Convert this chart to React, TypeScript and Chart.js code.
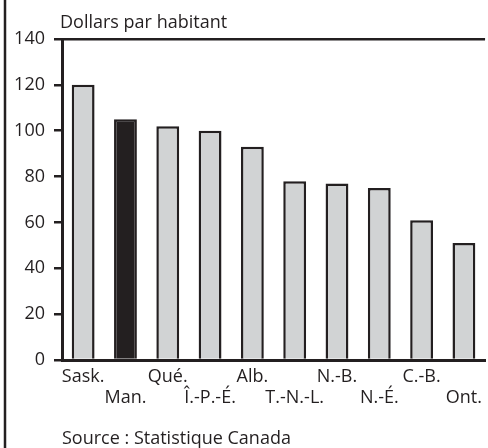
import React, { useEffect, useRef } from "react";
import { Chart, registerables } from "chart.js";

Chart.register(...registerables);

const categories: string[] = ["Sask.", "Man.", "Qué.", "Î.-P.-É.", "Alb.", "T.-N.-L.", "N.-B.", "N.-É.", "C.-B.", "Ont."];
const values: number[] = [120, 105, 102, 100, 93, 78, 77, 75, 61, 51];
const highlighted: string = "Man.";
const yTicks: number[] = [0, 20, 40, 60, 80, 100, 120, 140];
const titleText = "Dollars par habitant";
const sourceText = "Source : Statistique Canada";

const DARK = "#231f20";
const GRAY = "#d1d3d4";
const FONT = "'Open Sans', sans-serif";

export default function App() {
  const ref = useRef<HTMLCanvasElement | null>(null);

  useEffect(() => {
    if (!ref.current) return;
    const labels = categories.map((c, i) => (i % 2 === 0 ? [c, ""] : ["", c]));
    const decor = {
      id: "decor",
      afterDraw(chart: any) {
        const ctx = chart.ctx;
        const area = chart.chartArea;
        ctx.save();
        ctx.strokeStyle = DARK;
        ctx.lineWidth = 2.5;
        ctx.beginPath();
        ctx.moveTo(5, 0);
        ctx.lineTo(5, 448);
        ctx.stroke();
        ctx.fillStyle = DARK;
        ctx.font = `18px ${FONT}`;
        ctx.textBaseline = "alphabetic";
        ctx.textAlign = "left";
        ctx.fillText(titleText, area.left - 2, 28);
        ctx.fillText(sourceText, area.left, 444);
        ctx.restore();
      },
    };
    const chart = new Chart(ref.current, {
      type: "bar",
      data: {
        labels,
        datasets: [
          {
            data: values,
            backgroundColor: categories.map((c) => (c === highlighted ? DARK : GRAY)),
            borderColor: DARK,
            borderWidth: 2.5,
            barPercentage: 0.54,
            categoryPercentage: 1,
          },
        ],
      },
      options: {
        animation: false,
        responsive: false,
        devicePixelRatio: 1,
        layout: { padding: { top: 39, right: 0, bottom: 0, left: 0 } },
        plugins: { legend: { display: false }, tooltip: { enabled: false }, title: { display: false } },
        scales: {
          x: {
            grid: { display: false, drawTicks: false, tickLength: 0 },
            border: { display: true, color: DARK, width: 3 },
            ticks: {
              color: DARK,
              font: { family: FONT, size: 18, lineHeight: 1.18 },
              padding: 6,
              maxRotation: 0,
              autoSkip: false,
            },
            afterFit: (scale: any) => {
              scale.height = 88;
            },
          },
          y: {
            min: 0,
            max: 140,
            afterBuildTicks: (scale: any) => {
              scale.ticks = yTicks.map((v) => ({ value: v }));
            },
            grid: {
              color: (c: any) => (c.tick && c.tick.value === 140 ? DARK : "rgba(0,0,0,0)"),
              tickColor: DARK,
              tickLength: 8,
              lineWidth: 2.5,
            },
            border: { display: true, color: DARK, width: 3 },
            ticks: {
              color: DARK,
              font: { family: FONT, size: 18 },
              padding: 9,
            },
            afterFit: (scale: any) => {
              scale.width = 62;
            },
          },
        },
      },
      plugins: [decor],
    });
    return () => chart.destroy();
  }, []);

  return (
    <canvas
      ref={ref}
      width={488}
      height={448}
      style={{ position: "fixed", left: 0, top: 0, width: 488, height: 448 }}
    />
  );
}
